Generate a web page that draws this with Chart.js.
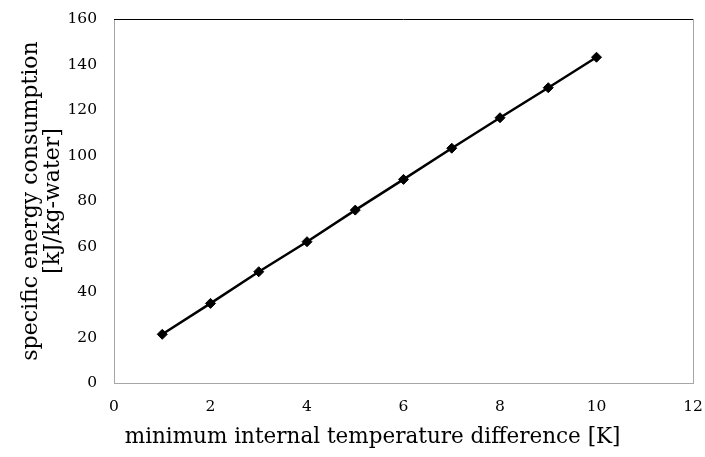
<!DOCTYPE html>
<html>
<head>
<meta charset="utf-8">
<script src="https://cdn.jsdelivr.net/npm/chart.js@4.4.1/dist/chart.umd.min.js"></script>
<style>
  html, body { margin: 0; padding: 0; background: #fff; }
  #wrap { width: 705px; height: 457px; }
</style>
</head>
<body>
<div id="wrap"><canvas id="energy_chart" width="705" height="457"></canvas></div>
<script>
// data
const TEMP_DIFF = [1, 2, 3, 4, 5, 6, 7, 8, 9, 10];
const ENERGY = [21.4, 35.0, 48.9, 62.1, 76.0, 89.5, 103.2, 116.6, 129.8, 143.2];
const X_TITLE = '\u2002minimum internal temperature difference [K]';
const Y_TITLE = ['specific energy consumption', '[kJ/kg-water]'];

const FONT = "'DejaVu Serif', 'Liberation Serif', serif";

// plot box: left/bottom taken by the axes, top/right by padding
const Y_AXIS_WIDTH = 114;
const X_AXIS_HEIGHT = 74;

// top + right frame of the plot area
const frame = {
  id: 'frame',
  afterDraw(chart) {
    const { ctx, chartArea: a } = chart;
    ctx.save();
    ctx.lineWidth = 1;
    ctx.strokeStyle = '#000';
    ctx.beginPath();
    ctx.moveTo(a.left, a.top + 0.5);
    ctx.lineTo(a.right, a.top + 0.5);
    ctx.stroke();
    ctx.strokeStyle = '#a6a6a6';
    ctx.beginPath();
    ctx.moveTo(a.right + 0.5, a.top);
    ctx.lineTo(a.right + 0.5, a.bottom);
    ctx.stroke();
    ctx.restore();
  }
};

new Chart(document.getElementById('energy_chart').getContext('2d'), {
  type: 'line',
  data: {
    datasets: [{
      data: TEMP_DIFF.map((x, i) => ({ x: x, y: ENERGY[i] })),
      borderColor: '#000',
      backgroundColor: '#000',
      borderWidth: 2.5,
      pointStyle: 'rectRot',
      pointRadius: 5,
      pointBorderWidth: 1,
      tension: 0
    }]
  },
  options: {
    responsive: false,
    animation: false,
    layout: { padding: { left: 0, right: 12, top: 19, bottom: 0 } },
    plugins: { legend: { display: false }, tooltip: { enabled: false } },
    scales: {
      x: {
        type: 'linear',
        min: 0,
        max: 12,
        grid: { display: false, drawTicks: false },
        border: { display: true, color: '#a6a6a6', width: 1 },
        ticks: { stepSize: 2, padding: 15, color: '#000', font: { family: FONT, size: 15.5 } },
        title: {
          display: true, text: X_TITLE, color: '#000', align: 'start',
          padding: { top: 0, bottom: 7 }, font: { family: FONT, size: 21.5 }
        },
        afterFit(scale) {
          scale.height = X_AXIS_HEIGHT;
          scale.paddingLeft = 0;
          scale.paddingRight = 0;
        }
      },
      y: {
        min: 0,
        max: 160,
        grid: { display: false, drawTicks: false },
        border: { display: true, color: '#a6a6a6', width: 1 },
        ticks: { stepSize: 20, padding: 17, color: '#000', font: { family: FONT, size: 15.5 } },
        title: {
          display: true, text: Y_TITLE, color: '#000',
          padding: { top: 21, bottom: 0 }, font: { family: FONT, size: 22, lineHeight: 0.98 }
        },
        afterFit(scale) {
          scale.width = Y_AXIS_WIDTH;
          scale.paddingTop = 0;
          scale.paddingBottom = 0;
        }
      }
    }
  },
  plugins: [frame]
});
</script>
</body>
</html>
